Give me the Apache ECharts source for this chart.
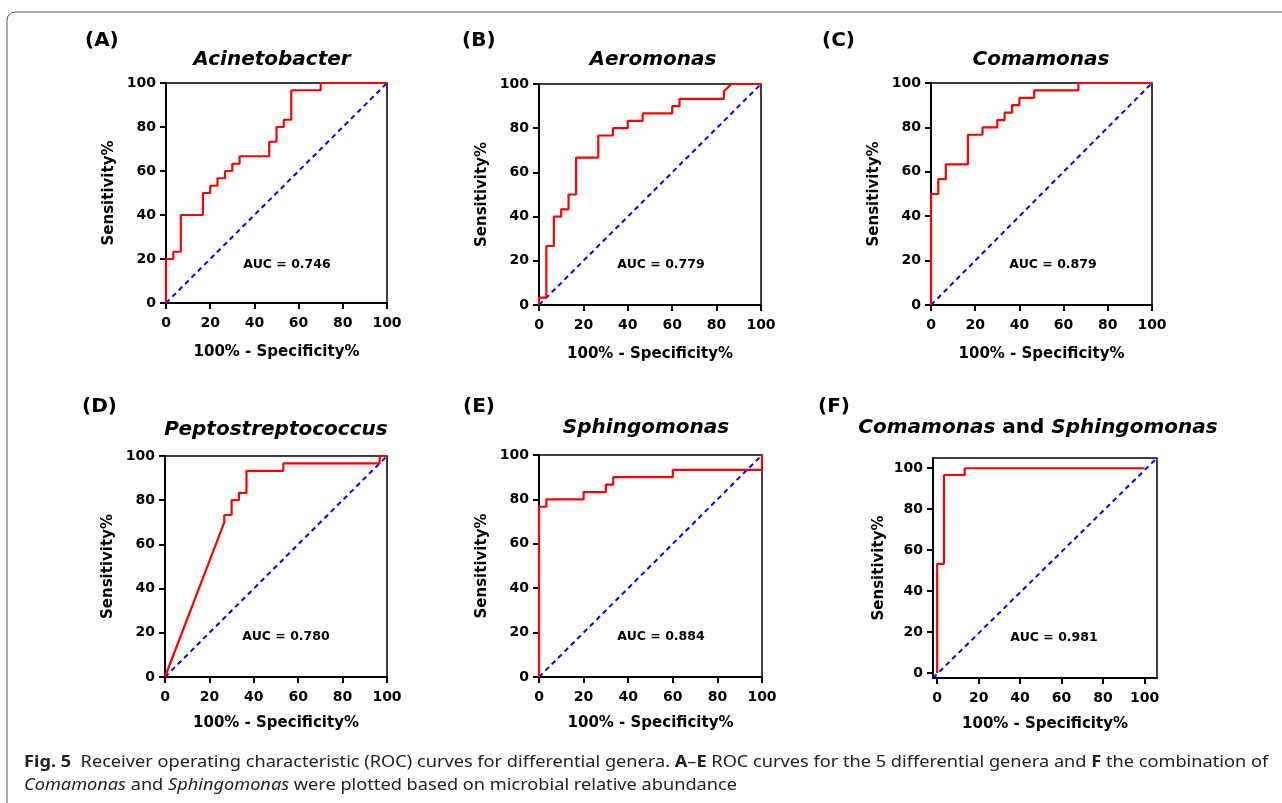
<!DOCTYPE html>
<html>
<head>
<meta charset="utf-8">
<title>ROC curves</title>
<script src="https://cdn.jsdelivr.net/npm/echarts@6/dist/echarts.min.js"></script>
<style>
html, body { margin: 0; padding: 0; background: #fff; }
#roc { width: 1282px; height: 803px; }
</style>
</head>
<body>
<div id="roc"></div>
<script>
// ROC points: x = 100% - Specificity%, y = Sensitivity%
var acinetoX = [0, 0, 3.3, 3.3, 6.7, 6.7, 16.7, 16.7, 20, 20, 23.3, 23.3, 26.7, 26.7, 30, 30, 33.3, 33.3, 46.7, 46.7, 50, 50, 53.3, 53.3, 56.7, 56.7, 70, 70, 100];
var acinetoY = [0, 20, 20, 23.3, 23.3, 40, 40, 50, 50, 53.3, 53.3, 56.7, 56.7, 60, 60, 63.3, 63.3, 66.7, 66.7, 73.3, 73.3, 80, 80, 83.3, 83.3, 96.7, 96.7, 100, 100];

var aeroX = [0, 0, 3.3, 3.3, 6.7, 6.7, 10, 10, 13.3, 13.3, 16.7, 16.7, 26.7, 26.7, 33.3, 33.3, 40, 40, 46.7, 46.7, 60, 60, 63.3, 63.3, 83.3, 83.3, 86.7, 100];
var aeroY = [0, 3.3, 3.3, 26.7, 26.7, 40, 40, 43.3, 43.3, 50, 50, 66.7, 66.7, 76.7, 76.7, 80, 80, 83.3, 83.3, 86.7, 86.7, 90, 90, 93.3, 93.3, 96.7, 100, 100];

var comaX = [0, 0, 3.3, 3.3, 6.7, 6.7, 16.7, 16.7, 23.3, 23.3, 30, 30, 33.3, 33.3, 36.7, 36.7, 40, 40, 46.7, 46.7, 66.7, 66.7, 100];
var comaY = [0, 50, 50, 56.7, 56.7, 63.3, 63.3, 76.7, 76.7, 80, 80, 83.3, 83.3, 86.7, 86.7, 90, 90, 93.3, 93.3, 96.7, 96.7, 100, 100];

var peptoX = [0, 26.7, 26.7, 30, 30, 33.3, 33.3, 36.7, 36.7, 53.3, 53.3, 96.7, 96.7, 100];
var peptoY = [0, 70, 73.3, 73.3, 80, 80, 83.3, 83.3, 93.3, 93.3, 96.7, 96.7, 100, 100];

var sphingoX = [0, 0, 3.3, 3.3, 20, 20, 30, 30, 33.3, 33.3, 60, 60, 100, 100];
var sphingoY = [0, 76.7, 76.7, 80, 80, 83.3, 83.3, 86.7, 86.7, 90, 90, 93.3, 93.3, 100];

var comboX = [0, 0, 3.3, 3.3, 13.3, 13.3, 100];
var comboY = [0, 53.3, 53.3, 96.7, 96.7, 100, 100];

// reference diagonal (chance line), corner to corner of each axis range
var diagX = [0, 100];
var diagY = [0, 100];
var diagComboX = [-2, 106];
var diagComboY = [-2.5, 105];

var tickValues = [0, 20, 40, 60, 80, 100];
var aucTexts = ['AUC = 0.746', 'AUC = 0.779', 'AUC = 0.879', 'AUC = 0.780', 'AUC = 0.884', 'AUC = 0.981'];
var panelTags = ['(A)', '(B)', '(C)', '(D)', '(E)', '(F)'];
var genusNames = ['Acinetobacter', 'Aeromonas', 'Comamonas', 'Peptostreptococcus', 'Sphingomonas'];

var FONT = 'DejaVu Sans';

var curves = [
    [acinetoX, acinetoY], [aeroX, aeroY], [comaX, comaY],
    [peptoX, peptoY], [sphingoX, sphingoY], [comboX, comboY]
];
var diagonals = [
    [diagX, diagY], [diagX, diagY], [diagX, diagY],
    [diagX, diagY], [diagX, diagY], [diagComboX, diagComboY]
];

var grids = [
    {left: 166, top: 83, width: 221, height: 220},
    {left: 539, top: 84, width: 222, height: 221},
    {left: 931, top: 83, width: 221, height: 222},
    {left: 165, top: 456, width: 222, height: 221},
    {left: 539, top: 455, width: 223, height: 222},
    {left: 933, top: 458, width: 224, height: 220}
];
var xRange = [[0, 100], [0, 100], [0, 100], [0, 100], [0, 100], [-2, 106]];
var yRange = [[0, 100], [0, 100], [0, 100], [0, 100], [0, 100], [-2.5, 105]];

// text positions (px)
var tagPos = [[85, 41], [462, 41], [822, 41], [82, 407], [463, 407], [818, 407]];
var namePos = [[272, 60], [653, 60], [1041, 60], [276, 430], [646, 428], [1038, 428]];
var aucPos = [[287, 265], [661, 265], [1053, 265], [286, 637], [661, 637], [1054, 638]];

function zip(a, b) {
    return a.map(function (v, i) { return [v, b[i]]; });
}

var xAxes = [], yAxes = [], series = [], graphics = [];

grids.forEach(function (g, i) {
    g.show = true;
    g.borderColor = '#000';
    g.borderWidth = 1.5;
    g.backgroundColor = 'transparent';
    var topRow = i < 3;
    var labelStyle = {
        customValues: tickValues,
        color: '#000',
        fontFamily: FONT,
        fontWeight: 'bold',
        fontSize: 14
    };
    xAxes.push({
        type: 'value', gridIndex: i,
        min: xRange[i][0], max: xRange[i][1],
        splitLine: {show: false},
        axisLine: {onZero: false, lineStyle: {color: '#000', width: 2}},
        axisTick: {customValues: tickValues, length: 6, lineStyle: {color: '#000', width: 2}},
        axisLabel: Object.assign({margin: 13}, labelStyle),
        name: '100% - Specificity%',
        nameLocation: 'middle',
        nameGap: topRow ? 42 : 39,
        nameTextStyle: {color: '#000', fontFamily: FONT, fontWeight: 'bold', fontSize: 15}
    });
    yAxes.push({
        type: 'value', gridIndex: i,
        min: yRange[i][0], max: yRange[i][1],
        splitLine: {show: false},
        axisLine: {onZero: false, lineStyle: {color: '#000', width: 2}},
        axisTick: {customValues: tickValues, length: 6, lineStyle: {color: '#000', width: 2}},
        axisLabel: Object.assign({margin: 10}, labelStyle),
        name: 'Sensitivity%',
        nameLocation: 'middle',
        nameGap: i == 5 ? 46 : 49,
        nameTextStyle: {color: '#000', fontFamily: FONT, fontWeight: 'bold', fontSize: 15}
    });
    series.push({
        type: 'line', xAxisIndex: i, yAxisIndex: i,
        data: zip(diagonals[i][0], diagonals[i][1]),
        showSymbol: false, silent: true, clip: false, z: 2,
        lineStyle: {color: '#0000ff', width: 2, type: [5, 4]}
    });
    series.push({
        type: 'line', xAxisIndex: i, yAxisIndex: i,
        data: zip(curves[i][0], curves[i][1]),
        showSymbol: false, silent: true, clip: false, z: 3,
        lineStyle: {color: '#ff0000', width: 2.2}
    });

    graphics.push({
        type: 'text', x: tagPos[i][0], y: tagPos[i][1],
        style: {text: panelTags[i], fill: '#000', fontFamily: FONT, fontWeight: 'bold', fontSize: 20,
                align: 'left', verticalAlign: 'middle'}
    });
    graphics.push({
        type: 'text', x: aucPos[i][0], y: aucPos[i][1],
        style: {text: aucTexts[i], fill: '#000', fontFamily: FONT, fontWeight: 'bold', fontSize: 12.5,
                align: 'center', verticalAlign: 'middle'}
    });
    var nameStyle = {fill: '#000', fontFamily: FONT, fontWeight: 'bold', fontSize: 20,
                     align: 'center', verticalAlign: 'middle'};
    if (i < 5) {
        nameStyle.text = genusNames[i];
        nameStyle.fontStyle = 'italic';
    } else {
        nameStyle.text = '{bi|Comamonas} {b|and} {bi|Sphingomonas}';
        nameStyle.rich = {
            bi: {fontFamily: FONT, fontWeight: 'bold', fontStyle: 'italic', fontSize: 20, fill: '#000'},
            b: {fontFamily: FONT, fontWeight: 'bold', fontSize: 20, fill: '#000'}
        };
    }
    graphics.push({type: 'text', x: namePos[i][0], y: namePos[i][1], style: nameStyle});
});

// figure frame + caption
graphics.push({
    type: 'rect', shape: {x: 7, y: 12, width: 1300, height: 820, r: 8},
    style: {fill: 'none', stroke: '#555', lineWidth: 1}, silent: true
});
var capRich = {
    b: {fontFamily: 'Noto Sans', fontWeight: 'bold', fontSize: 16, fill: '#222'},
    i: {fontFamily: 'Noto Sans', fontStyle: 'italic', fontSize: 16, fill: '#222'}
};
// caption text is stretched to the width of the original figure
graphics.push({
    type: 'text', x: 24, y: 762, scaleX: 1.136,
    style: {
        text: '{b|Fig. 5}  Receiver operating characteristic (ROC) curves for differential genera. {b|A}–{b|E} ROC curves for the 5 differential genera and {b|F} the combination of',
        fontFamily: 'Noto Sans', fontSize: 16, fill: '#222', align: 'left', verticalAlign: 'middle', rich: capRich
    }
});
graphics.push({
    type: 'text', x: 24, y: 785, scaleX: 1.136,
    style: {
        text: '{i|Comamonas} and {i|Sphingomonas} were plotted based on microbial relative abundance',
        fontFamily: 'Noto Sans', fontSize: 16, fill: '#222', align: 'left', verticalAlign: 'middle', rich: capRich
    }
});

var rocOption = {
    backgroundColor: '#fff',
    animation: false,
    grid: grids,
    xAxis: xAxes,
    yAxis: yAxes,
    series: series,
    graphic: graphics
};

var rocChart = echarts.init(document.getElementById('roc'));
rocChart.setOption(rocOption);
</script>
</body>
</html>
